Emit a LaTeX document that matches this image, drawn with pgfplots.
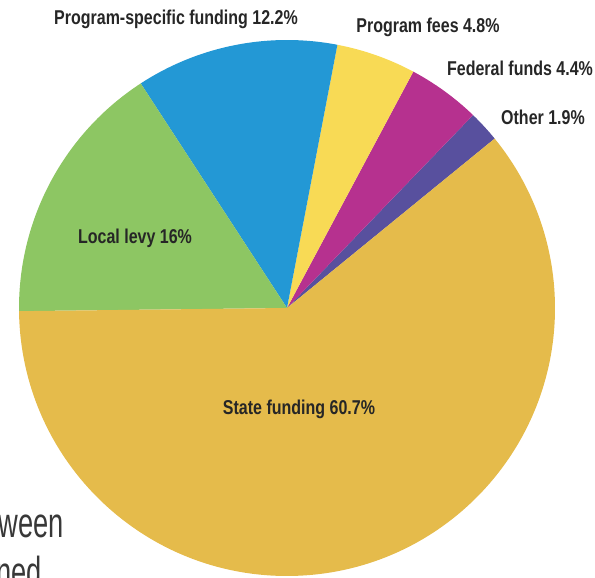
\documentclass[border=0pt]{standalone}
\usepackage{pgfplots}
\pgfplotsset{compat=1.18}
\usepackage{pgfplotstable}
\usepackage{fontspec}
\setmainfont{Liberation Sans}
\newfontfamily\labelfont[FakeStretch=0.8]{Liberation Sans}
\newfontfamily\bodyfont[FakeStretch=0.65]{Liberation Sans}

\definecolor{slice0}{HTML}{58509E} % other
\definecolor{slice1}{HTML}{B6318F} % federal
\definecolor{slice2}{HTML}{F8DA55} % program fees
\definecolor{slice3}{HTML}{2398D5} % program-specific
\definecolor{slice4}{HTML}{8DC663} % local levy
\definecolor{slice5}{HTML}{E5BB4B} % state
\definecolor{txt}{HTML}{262626}

% share in percent, start = cumulative percent before the slice
\pgfplotstableread{
cx  cy  start share idx
287 270 0.0   1.9   0
287 270 1.9   4.4   1
287 270 6.3   4.8   2
287 270 11.1  12.2  3
287 270 23.3  16.0  4
287 270 39.3  60.7  5
}\slices

\begin{document}
\begin{tikzpicture}
\useasboundingbox (0,0) rectangle (595pt,578pt);
\begin{axis}[
    at={(0,0)}, anchor=south west,
    scale only axis,
    width=595pt, height=578pt,
    xmin=0, xmax=595, ymin=0, ymax=578,
    hide axis,
    clip=false,
  ]
\addplot[
  scatter, only marks, mark=*, mark size=0pt,
  visualization depends on={\thisrow{start} \as \startp},
  visualization depends on={\thisrow{share} \as \sharep},
  visualization depends on={\thisrow{idx} \as \idxp},
  scatter/@pre marker code/.code={
    \pgfmathsetmacro\aa{39.2+3.6*\startp}
    \pgfmathsetmacro\bb{39.2+3.6*(\startp+\sharep)}
    \pgfmathtruncatemacro\ci{\idxp}
    \fill[fill=slice\ci, draw=none, fill opacity=1]
      (0,0) -- (\aa:268pt) arc[start angle=\aa, end angle=\bb, radius=268pt] -- cycle;
  },
  scatter/@post marker code/.code={},
] table[x=cx, y=cy] {\slices};

\coordinate (lProg)  at (axis cs:176,553);
\coordinate (lFees)  at (axis cs:428,545);
\coordinate (lFed)   at (axis cs:520,502);
\coordinate (lOther) at (axis cs:543,453);
\coordinate (lLocal) at (axis cs:135,334);
\coordinate (lState) at (axis cs:299,163);
\coordinate (tWeen)  at (axis cs:64,40);
\coordinate (tNed)   at (axis cs:-4,-9);
\end{axis}

\begin{scope}[every node/.style={inner sep=0pt, outer sep=0pt},
  font=\labelfont\bfseries\fontsize{20}{20}\selectfont, text=txt]
\node[anchor=base] at (lProg)  {Program-specific funding 12.2\%};
\node[anchor=base] at (lFees)  {Program fees 4.8\%};
\node[anchor=base] at (lFed)   {Federal funds 4.4\%};
\node[anchor=base] at (lOther) {Other 1.9\%};
\node[anchor=base] at (lLocal) {Local levy 16\%};
\node[anchor=base] at (lState) {State funding 60.7\%};
\end{scope}

\begin{scope}[every node/.style={inner sep=0pt, outer sep=0pt},
  font=\bodyfont\fontsize{42}{42}\selectfont, text=black!78]
\node[anchor=base east] at (tWeen) {ween};
\node[anchor=base west] at (tNed)  {ned};
\end{scope}
\end{tikzpicture}
\end{document}
